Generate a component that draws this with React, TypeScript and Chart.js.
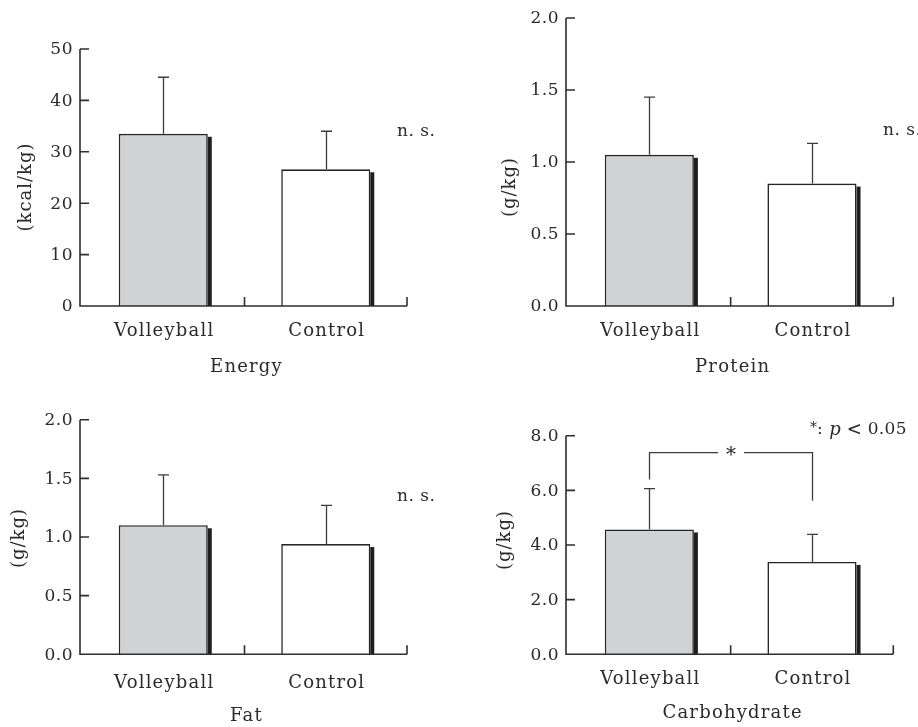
import React, { useEffect, useRef } from 'react';
import { Chart, registerables } from 'chart.js';

Chart.register(...registerables);

// ---------- data ----------
const categories = ['Volleyball', 'Control'];

const energyMean = [33.5, 26.6];
const energySD = [11.0, 7.4];
const energyTicks = [0, 10, 20, 30, 40, 50];
const energyTickLabels = ['0', '10', '20', '30', '40', '50'];

const proteinMean = [1.05, 0.85];
const proteinSD = [0.4, 0.28];
const proteinTicks = [0, 0.5, 1.0, 1.5, 2.0];
const proteinTickLabels = ['0.0', '0.5', '1.0', '1.5', '2.0'];

const fatMean = [1.1, 0.94];
const fatSD = [0.43, 0.33];
const fatTicks = [0, 0.5, 1.0, 1.5, 2.0];
const fatTickLabels = ['0.0', '0.5', '1.0', '1.5', '2.0'];

const carbMean = [4.57, 3.38];
const carbSD = [1.49, 1.01];
const carbTicks = [0, 2, 4, 6, 8];
const carbTickLabels = ['0.0', '2.0', '4.0', '6.0', '8.0'];
// significance bracket (value units): level, left leg end, right leg end
const carbBracket = [7.38, 6.4, 5.62];

const FONT = '"DejaVu Serif", "Liberation Serif", serif';
const BAR_FILLS = ['#d1d2d4', '#ffffff'];
const AXIS_SHIFT = 2; // y axis sits this far left of the category area

type PanelCfg = {
  id: string;
  left: number;
  top: number;
  w: number;
  h: number;
  padding: { left: number; right: number; top: number; bottom: number };
  mean: number[];
  sd: number[];
  ticks: number[];
  tickLabels: string[];
  max: number;
  yTitle: string;
  yTitlePos: [number, number];
  xTitle: string;
  xLabelDy: number;
  xTitleDy: number;
  ns?: [number, number];
  bracket?: number[];
  legend?: [number, number];
};

const panels: PanelCfg[] = [
  {
    id: 'energy', left: 0, top: 0, w: 459, h: 380,
    padding: { left: 82, right: 52, top: 49, bottom: 74 },
    mean: energyMean, sd: energySD, ticks: energyTicks, tickLabels: energyTickLabels, max: 50,
    yTitle: '(kcal/kg)', yTitlePos: [26, 187], xTitle: 'Energy', xLabelDy: 25, xTitleDy: 61,
    ns: [397, 131.5],
  },
  {
    id: 'protein', left: 459, top: 0, w: 459, h: 380,
    padding: { left: 109, right: 24.7, top: 18, bottom: 74 },
    mean: proteinMean, sd: proteinSD, ticks: proteinTicks, tickLabels: proteinTickLabels, max: 2,
    yTitle: '(g/kg)', yTitlePos: [51.7, 187], xTitle: 'Protein', xLabelDy: 25.3, xTitleDy: 61,
    ns: [424, 130.7],
  },
  {
    id: 'fat', left: 0, top: 380, w: 459, h: 347,
    padding: { left: 82, right: 52, top: 39.7, bottom: 72.7 },
    mean: fatMean, sd: fatSD, ticks: fatTicks, tickLabels: fatTickLabels, max: 2,
    yTitle: '(g/kg)', yTitlePos: [19, 158], xTitle: 'Fat', xLabelDy: 29, xTitleDy: 62.5,
    ns: [397, 116.7],
  },
  {
    id: 'carb', left: 459, top: 380, w: 459, h: 347,
    padding: { left: 109, right: 24.7, top: 55.7, bottom: 72.7 },
    mean: carbMean, sd: carbSD, ticks: carbTicks, tickLabels: carbTickLabels, max: 8,
    yTitle: '(g/kg)', yTitlePos: [46.7, 160], xTitle: 'Carbohydrate', xLabelDy: 25, xTitleDy: 59,
    bracket: carbBracket, legend: [351, 50],
  },
];

function setSpacing(ctx: any, px: number) {
  if ('letterSpacing' in ctx) ctx.letterSpacing = px + 'px';
}

function makePlugin(cfg: PanelCfg) {
  return {
    id: 'custom-' + cfg.id,
    beforeDatasetsDraw(chart: any) {
      const ctx = chart.ctx;
      const meta = chart.getDatasetMeta(0);
      ctx.save();
      ctx.fillStyle = '#1e1e1e';
      meta.data.forEach((bar: any) => {
        const right = bar.x + bar.width / 2;
        const top = bar.y + 3;
        ctx.fillRect(right, top, 4, bar.base - top);
      });
      ctx.restore();
    },
    afterDatasetsDraw(chart: any) {
      const ctx = chart.ctx;
      const area = chart.chartArea;
      const ys = chart.scales.y;
      const xs = chart.scales.x;
      const meta = chart.getDatasetMeta(0);
      const axisX = area.left - AXIS_SHIFT;
      ctx.save();

      // error bars
      ctx.strokeStyle = '#3c3c3c';
      ctx.lineWidth = 1.3;
      meta.data.forEach((bar: any, i: number) => {
        const x = Math.round(bar.x) + 0.5;
        const yTop = ys.getPixelForValue(cfg.mean[i] + cfg.sd[i]);
        ctx.beginPath();
        ctx.moveTo(x, bar.y);
        ctx.lineTo(x, yTop);
        ctx.moveTo(x - 5.5, yTop);
        ctx.lineTo(x + 5.5, yTop);
        ctx.stroke();
      });

      // axes
      ctx.strokeStyle = '#2e2e2e';
      ctx.lineWidth = 1.6;
      const yTopPx = ys.getPixelForValue(cfg.max);
      const yBot = ys.getPixelForValue(0);
      ctx.beginPath();
      ctx.moveTo(axisX, yTopPx);
      ctx.lineTo(axisX, yBot);
      ctx.lineTo(area.right, yBot);
      ctx.stroke();
      // y ticks (inward)
      ctx.beginPath();
      cfg.ticks.forEach((v) => {
        const py = ys.getPixelForValue(v);
        if (v === 0) return;
        ctx.moveTo(axisX, py);
        ctx.lineTo(axisX + 9, py);
      });
      // x ticks at category boundaries (upward)
      const mid = (xs.getPixelForValue(0) + xs.getPixelForValue(1)) / 2;
      [mid, area.right].forEach((px) => {
        ctx.moveTo(px, yBot);
        ctx.lineTo(px, yBot - 9);
      });
      ctx.stroke();

      // y tick labels
      ctx.fillStyle = '#2a2a2a';
      ctx.font = '17px ' + FONT;
      ctx.textAlign = 'right';
      ctx.textBaseline = 'middle';
      setSpacing(ctx, 0.5);
      cfg.ticks.forEach((v, i) => {
        ctx.fillText(cfg.tickLabels[i], axisX - 7, ys.getPixelForValue(v) + 1);
      });

      // x category labels
      ctx.font = '18px ' + FONT;
      ctx.textAlign = 'center';
      setSpacing(ctx, 1.2);
      meta.data.forEach((bar: any, i: number) => {
        ctx.fillText(categories[i], bar.x + 1, yBot + cfg.xLabelDy);
      });
      // x title
      ctx.fillText(cfg.xTitle, (axisX + area.right) / 2 + 3, yBot + cfg.xTitleDy);

      // y title
      ctx.save();
      ctx.translate(cfg.yTitlePos[0], cfg.yTitlePos[1]);
      ctx.rotate(-Math.PI / 2);
      setSpacing(ctx, 1);
      ctx.fillText(cfg.yTitle, 0, 0);
      ctx.restore();

      // n.s.
      if (cfg.ns) {
        ctx.textAlign = 'left';
        ctx.font = '17px ' + FONT;
        setSpacing(ctx, 0.5);
        ctx.fillText('n. s.', cfg.ns[0], cfg.ns[1]);
      }

      // significance bracket
      if (cfg.bracket) {
        const [lvl, lEnd, rEnd] = cfg.bracket;
        const x0 = Math.round(meta.data[0].x) + 0.5;
        const x1 = Math.round(meta.data[1].x) + 0.5;
        const yl = ys.getPixelForValue(lvl);
        const cx = (x0 + x1) / 2;
        ctx.strokeStyle = '#3c3c3c';
        ctx.lineWidth = 1.3;
        ctx.beginPath();
        ctx.moveTo(x0, ys.getPixelForValue(lEnd));
        ctx.lineTo(x0, yl);
        ctx.lineTo(cx - 13, yl);
        ctx.moveTo(cx + 13, yl);
        ctx.lineTo(x1, yl);
        ctx.lineTo(x1, ys.getPixelForValue(rEnd));
        ctx.stroke();
        ctx.font = '20px ' + FONT;
        ctx.textAlign = 'center';
        setSpacing(ctx, 0);
        ctx.fillText('*', cx, yl + 3);
      }

      // legend "*: p < 0.05"
      if (cfg.legend) {
        let [lx, ly] = cfg.legend;
        ctx.textAlign = 'left';
        setSpacing(ctx, 0);
        ctx.font = '14px ' + FONT;
        ctx.fillText('*', lx, ly - 2);
        lx += ctx.measureText('*').width;
        ctx.font = '17px ' + FONT;
        ctx.fillText(':', lx, ly);
        lx += ctx.measureText(': ').width + 1;
        ctx.font = 'italic 18px ' + FONT;
        ctx.fillText('p', lx, ly);
        lx += ctx.measureText('p').width + 6;
        ctx.font = '18px ' + FONT;
        ctx.fillText('<', lx, ly);
        lx += ctx.measureText('<').width + 6;
        setSpacing(ctx, 0.3);
        ctx.font = '17px ' + FONT;
        ctx.fillText('0.05', lx, ly);
      }

      ctx.restore();
    },
  };
}

function Panel({ cfg }: { cfg: PanelCfg }) {
  const ref = useRef<HTMLCanvasElement>(null);
  useEffect(() => {
    if (!ref.current) return;
    const chart = new Chart(ref.current, {
      type: 'bar',
      data: {
        labels: categories,
        datasets: [
          {
            data: cfg.mean,
            backgroundColor: BAR_FILLS,
            borderColor: '#262626',
            borderWidth: 1.6,
            barPercentage: 0.548,
            categoryPercentage: 1,
          },
        ],
      },
      options: {
        responsive: false,
        animation: false,
        devicePixelRatio: 1,
        layout: { padding: cfg.padding },
        plugins: { legend: { display: false }, tooltip: { enabled: false } },
        scales: {
          x: { display: false },
          y: { display: false, min: 0, max: cfg.max },
        },
      },
      plugins: [makePlugin(cfg)],
    } as any);
    return () => chart.destroy();
  }, [cfg]);
  return (
    <canvas
      ref={ref}
      width={cfg.w}
      height={cfg.h}
      style={{ position: 'absolute', left: cfg.left, top: cfg.top, width: cfg.w, height: cfg.h }}
    />
  );
}

export default function App() {
  return (
    <div style={{ position: 'fixed', left: 0, top: 0, width: 918, height: 727, background: '#ffffff', overflow: 'hidden' }}>
      {panels.map((p) => (
        <Panel key={p.id} cfg={p} />
      ))}
    </div>
  );
}
